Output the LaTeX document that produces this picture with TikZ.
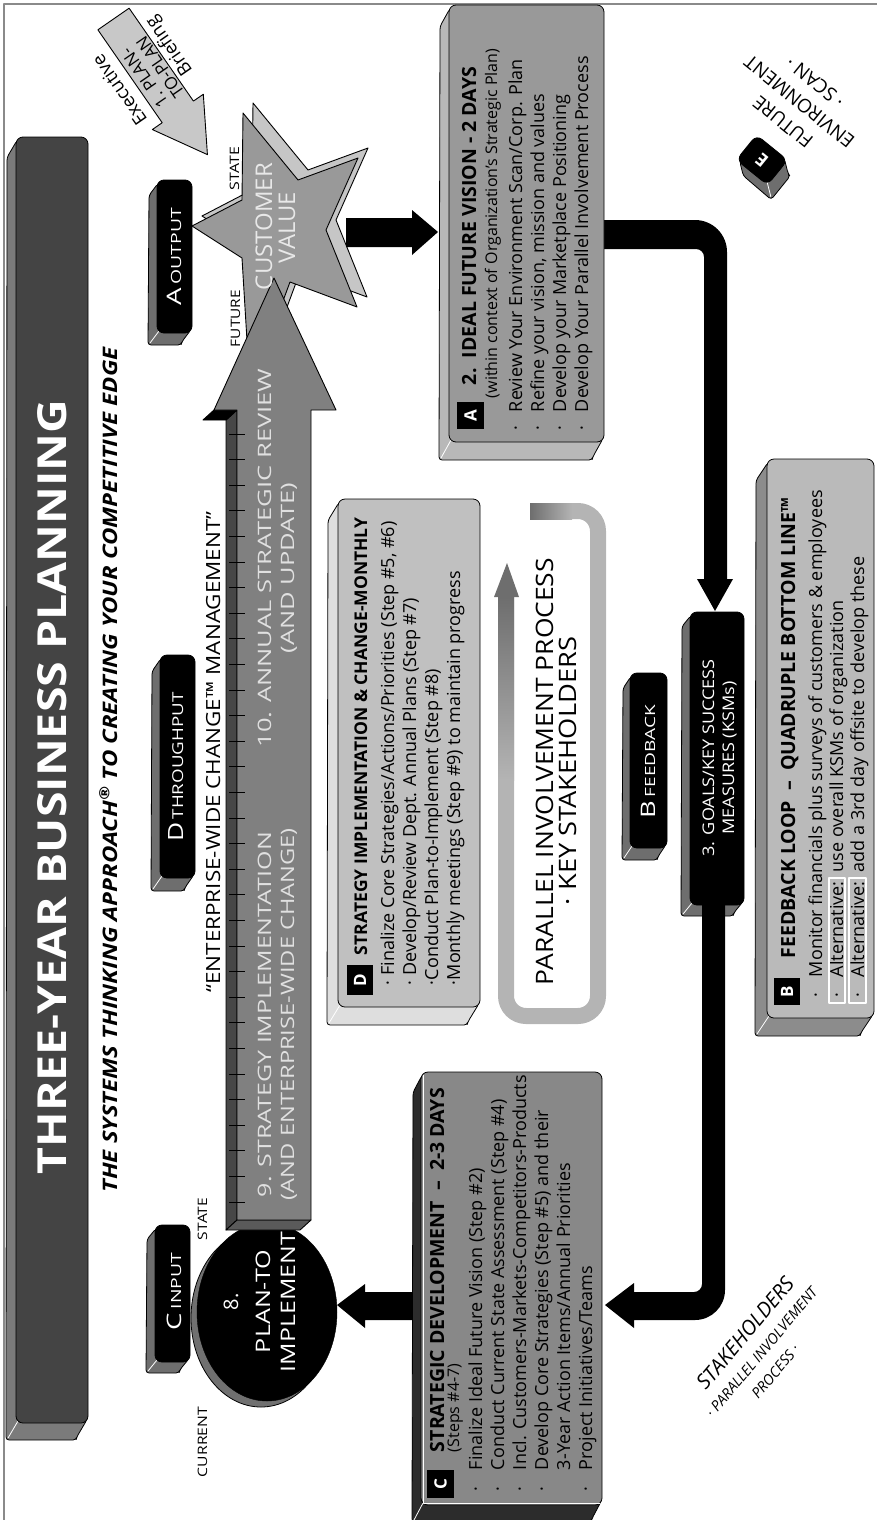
\documentclass[tikz,border=0pt]{standalone}
\usepackage{fontspec}
\setmainfont{Open Sans}
\usepackage{graphicx}

\definecolor{framegray}{HTML}{8A8A8A}
\definecolor{titlefront}{HTML}{444444}
\definecolor{titleside}{HTML}{7B7B7B}
\definecolor{keyside}{HTML}{6E6E6E}
\definecolor{execgray}{HTML}{C8C8C8}
\definecolor{starfront}{HTML}{999999}
\definecolor{starback}{HTML}{C6C6C6}
\definecolor{arrowfront}{HTML}{808080}
\definecolor{arrowside}{HTML}{474747}
\definecolor{arrowbottom}{HTML}{5A5A5A}
\definecolor{arrowtext}{HTML}{E0E0E0}
\definecolor{startext}{HTML}{E8E8E8}
\definecolor{visfront}{HTML}{999999}
\definecolor{visside}{HTML}{B8B8B8}
\definecolor{implfront}{HTML}{C0C0C0}
\definecolor{implside}{HTML}{DEDEDE}
\definecolor{devfront}{HTML}{888888}
\definecolor{devside}{HTML}{2C2C2C}
\definecolor{fbfront}{HTML}{BABABA}
\definecolor{fbside}{HTML}{8C8C8C}
\definecolor{ringlight}{HTML}{B4B4B4}
\definecolor{ringdark}{HTML}{6E6E6E}
\definecolor{ellside}{HTML}{707070}

\newcommand\fsz[1]{\fontsize{#1}{#1}\selectfont}
\newcommand\fitw[2]{\resizebox{#1pt}{\height}{#2}}
% raised box: top-left (#1,#2), bottom-right (#3,#4), extrusion (#5,#6), front colour, side colour
\newcommand\threed[8]{%
  \filldraw[fill=#8, draw=black, line width=0.8pt, rounded corners=3pt]
    ({#1+1},{#2-3.4}) -- ({#1+1+#5},{#2-3.4+#6}) -- ({#1+#5},{#4+#6})
    -- ({#3+#5-2},{#4+#6}) -- ({#3-1+#5},{#4+3.4+#6}) -- ({#3-1},{#4+3.4}) -- cycle;
  \draw[white, line width=0.8pt] ({#1+2},{#4+2}) -- ({#1+2+#5},{#4+2+#6});
  \filldraw[fill=#7, draw=black, line width=0.8pt, rounded corners=7pt] (#1,#2) rectangle (#3,#4);
}
% letter badge: name, corners, letter
\newcommand\badge[6]{%
  \fill[black] (#2,#3) rectangle (#4,#5);
  \node[vtext, anchor=center, white, font=\fsz{17}\bfseries] (#1) at ({(#2+#4)/2},{(#3+#5)/2}) {#6};
}

\begin{document}
\begin{tikzpicture}[x=1pt, y=1pt, line join=round,
  vtext/.style={rotate=90, inner sep=0pt, outer sep=0pt, anchor=base},
  vline/.style={rotate=90, inner sep=0pt, outer sep=0pt, anchor=base west},
  tilted/.style={inner sep=0pt, outer sep=0pt},
  outl/.style={draw=black, line width=0.9pt}]
\useasboundingbox (0,0) rectangle (877,-1520);

% frame
\draw[line width=1.6pt, framegray] (4,-1530) -- (4,-4) -- (890,-4);

% title bar and subtitle
\threed{16}{-137}{88}{-1423}{-10}{-17}{titlefront}{titleside}
\node[vtext, white] (title) at (66,-787)
  {\fsz{40}\bfseries\fitw{775}{THREE-YEAR BUSINESS PLANNING}};
\node[vtext] (subtitle) at (117,-770)
  {\fsz{20}\bfseries\itshape\fitw{845}{THE SYSTEMS THINKING APPROACH\textsuperscript{®} TO CREATING YOUR COMPETITIVE EDGE}};

% executive briefing arrow
\begin{scope}[shift={(113.5,-19)}, rotate=-55.3]
  \filldraw[fill=execgray, outl] (0,19) -- (113,19) -- (113,31) -- (165,0) -- (113,-31) -- (113,-19) -- (0,-19) -- cycle;
\end{scope}
\node[tilted, rotate=124.7, font=\fsz{18.5}] (exec1) at (119.2,-90.5) {Executive};
\node[tilted, rotate=124.7, font=\fsz{17}] (exec2) at (144.5,-77.8) {1. PLAN-};
\node[tilted, rotate=124.7, font=\fsz{17}] (exec3) at (160.1,-67) {TO-PLAN};
\node[tilted, rotate=124.7, font=\fsz{18.5}] (exec4) at (169.7,-45.7) {Briefing};

% customer value star
\filldraw[fill=starback, outl] (202,-216) -- (252,-190) -- (253,-103) -- (308,-170) -- (368,-148) -- (336,-220)
  -- (367,-297) -- (300,-272) -- (260,-380) -- (252,-248) -- cycle;
\filldraw[fill=starfront, outl] (192,-226) -- (242,-200) -- (243,-113) -- (298,-180) -- (358,-158) -- (326,-230)
  -- (357,-307) -- (290,-282) -- (250,-390) -- (242,-258) -- cycle;

% plan-to-implement ellipse
\filldraw[fill=ellside, draw=black, line width=0.8pt] (261,-1318) ellipse [x radius=70, y radius=89];
\filldraw[fill=black] (267,-1312) ellipse [x radius=70, y radius=89];

% big strategy arrow
\fill[arrowside, outl] (237,-410) -- (237,-1220) -- (226,-1230) -- (226,-420) -- cycle;
\fill[arrowbottom, outl] (237,-1220) -- (311,-1220) -- (300,-1230) -- (226,-1230) -- cycle;
\fill[black, outl] (214,-410) -- (237,-410) -- (226,-420) -- (203,-420) -- cycle;
\filldraw[fill=arrowfront, outl] (237,-1220) -- (311,-1220) -- (311,-410) -- (336,-410) -- (274,-278)
  -- (214,-410) -- (237,-410) -- cycle;
\foreach \k in {0,...,30} {\draw[line width=0.9pt] (229,{-434-25.6*\k}) -- (245,{-434-25.6*\k});}

% keys
\threed{157}{-180}{192}{-333}{-9}{-12}{black}{keyside}
\threed{160}{-655}{195}{-878}{-9}{-13}{black}{keyside}
\threed{155}{-1225}{190}{-1362}{-9}{-11}{black}{keyside}
\threed{630}{-673}{667}{-848}{-8}{-12}{black}{keyside}
\threed{690}{-612}{744}{-905}{-9}{-11}{black}{keyside}
\begin{scope}[shift={(762,-160)}, rotate=51, transform shape]
  \threed{-16}{20}{16}{-20}{-9}{-12}{black}{keyside}
  \node[vtext, anchor=center, white, font=\fsz{18}\bfseries] (ekey) at (0,0) {E};
\end{scope}

% black flow arrows
\fill[black] (346,-218) -- (412,-218) -- (412,-210) -- (438,-232) -- (412,-255) -- (412,-247) -- (346,-247) -- cycle;
\fill[black] (600,-220) -- (695,-220) arc[start angle=90, end angle=0, radius=32] -- (727,-579) -- (733,-579)
  -- (715,-611) -- (697,-579) -- (704,-579) -- (704,-257) arc[start angle=0, end angle=90, radius=8] -- (600,-249) -- cycle;
\fill[black] (702,-900) -- (725,-900) -- (725,-1290) arc[start angle=0, end angle=-90, radius=30] -- (634,-1320)
  -- (634,-1328) -- (605,-1305) -- (634,-1283) -- (634,-1292) -- (694,-1292) arc[start angle=-90, end angle=0, radius=8] -- cycle;
\fill[black] (425,-1292) -- (365,-1292) -- (365,-1284) -- (337,-1305) -- (365,-1328) -- (365,-1320) -- (425,-1320) -- cycle;

% content boxes
\threed{449}{-5}{604}{-442}{-10}{-18}{visfront}{visside}
\threed{338}{-499}{480}{-1007}{-11}{-18}{implfront}{implside}
\threed{421}{-1072}{602}{-1505}{-9}{-17}{devfront}{devside}
\draw[white, line width=0.8pt] (423,-1075) -- (423,-1503) -- (600,-1503);
\threed{767}{-459}{874}{-1018}{-12}{-18}{fbfront}{fbside}

% parallel involvement loop
\draw[line width=16pt, ringlight, rounded corners=20pt] (530,-511) -- (598,-511) -- (598,-1016) -- (506,-1016) -- (506,-597);
\shade[left color=ringdark, right color=ringlight] (530,-503) rectangle (572,-519);
\shade[top color=ringdark, bottom color=ringlight] (498,-597) rectangle (514,-780);
\fill[ringdark] (494,-597) -- (519,-597) -- (507,-563) -- cycle;

% labels on the star and the arrow
\node[vtext, startext, font=\fsz{23}] (cust1) at (272,-226.5) {\fitw{127}{CUSTOMER}};
\node[vtext, startext, font=\fsz{23}] (cust2) at (295,-227.5) {\fitw{71}{VALUE}};
\node[vtext, font=\fsz{13}] (stateA) at (239,-168.5) {\fitw{43}{STATE}};
\node[vtext, font=\fsz{13}] (futureA) at (240,-318.5) {\fitw{57}{FUTURE}};
\node[vtext, font=\fsz{13}] (stateC) at (207,-1219) {\fitw{42}{STATE}};
\node[vtext, font=\fsz{13}] (currentC) at (207,-1442) {\fitw{70}{CURRENT}};
\node[vtext, font=\fsz{19.5}] (ewc) at (220,-752) {\fitw{481}{“ENTERPRISE-WIDE CHANGE™ MANAGEMENT”}};
\node[vtext, arrowtext, font=\fsz{18.5}] (rev1) at (271,-558) {\fitw{379}{10. ANNUAL STRATEGIC REVIEW}};
\node[vtext, arrowtext, font=\fsz{18.5}] (rev2) at (294,-568) {\fitw{170}{(AND UPDATE)}};
\node[vtext, arrowtext, font=\fsz{18.5}] (impl1) at (271,-1014.5) {\fitw{365}{9. STRATEGY IMPLEMENTATION}};
\node[vtext, arrowtext, font=\fsz{18.5}] (impl2) at (294,-1014) {\fitw{372}{(AND ENTERPRISE-WIDE CHANGE)}};
\node[vtext, white, font=\fsz{20}] (ptx0) at (238,-1302) {8.};
\node[vtext, white, font=\fsz{20}] (ptx1) at (270,-1301.5) {\fitw{103}{PLAN-TO}};
\node[vtext, white, font=\fsz{20}] (ptx2) at (295,-1302) {\fitw{140}{IMPLEMENT}};

% key labels
\node[vtext, white] (aout) at (181,-256.5) {\fitw{97}{\fsz{20}A\fsz{14}\,OUTPUT}};
\node[vtext, white] (dthr) at (183,-767) {\fitw{149}{\fsz{21}D\fsz{15}\,THROUGHPUT}};
\node[vtext, white] (cinp) at (181,-1291.5) {\fitw{77}{\fsz{20}C\fsz{14}\,INPUT}};
\node[vtext, white] (bfb) at (655,-761.5) {\fitw{113}{\fsz{20}B\fsz{14}\,FEEDBACK}};
\node[vtext, white, font=\fsz{16}] (goal1) at (714,-758) {\fitw{197}{3. GOALS/KEY SUCCESS}};
\node[vtext, white, font=\fsz{16}] (goal2) at (734,-758) {\fitw{153}{MEASURES (KSMs)}};

% parallel involvement text
\node[vtext, font=\fsz{24}] (par1) at (553,-771.5) {\fitw{427}{PARALLEL INVOLVEMENT PROCESS}};
\node[vtext, font=\fsz{24}] (par2) at (576,-771) {\fitw{268}{· KEY STAKEHOLDERS}};

% ideal future vision box
\badge{badgeA}{457}{-402}{484}{-429}{A}
\node[vline, font=\fsz{19.5}\bfseries] (visT) at (476,-385) {2.\ \ IDEAL FUTURE VISION - 2 DAYS};
\node[vline, font=\fsz{16}] (visS) at (497,-398) {(within context of Organization’s Strategic Plan)};
\foreach \yy/\tx [count=\i] in {522/Review Your Environment Scan\slash Corp. Plan,
    544/{Refine your vision, mission and values},
    566/Develop your Marketplace Positioning,
    588/Develop Your Parallel Involvement Process} {
  \node[vline, font=\fsz{18}] (visB\i) at (\yy,-430) {·};
  \node[vline, font=\fsz{18}] (visL\i) at (\yy,-412) {\tx};
}

% strategy implementation box
\badge{badgeD}{347}{-965}{373}{-995}{D}
\node[vline, font=\fsz{17.5}\bfseries] (impT) at (367,-955) {STRATEGY IMPLEMENTATION \& CHANGE-MONTHLY};
\node[vline, font=\fsz{18}] (impL1) at (394,-985) {· Finalize Core Strategies/Actions/Priorities (Step \#5, \#6)};
\node[vline, font=\fsz{18}] (impL2) at (416,-985) {· Develop/Review Dept. Annual Plans (Step \#7)};
\node[vline, font=\fsz{18}] (impL3) at (438,-985) {·Conduct Plan-to-Implement (Step \#8)};
\node[vline, font=\fsz{18}] (impL4) at (460,-985) {·Monthly meetings (Step \#9) to maintain progress};

% strategic development box
\badge{badgeC}{427}{-1470}{454}{-1498}{C}
\node[vline, font=\fsz{19.5}\bfseries] (devT) at (444,-1452) {STRATEGIC DEVELOPMENT\ \ –\ \ 2-3 DAYS};
\node[vline, font=\fsz{16}] (devS) at (459,-1452) {(Steps \#4-7)};
\foreach \yy [count=\i] in {482,504,526,548,592} {
  \node[vline, font=\fsz{18}] (devB\i) at (\yy,-1491) {·};
}
\node[vline, font=\fsz{18}] (devL1) at (482,-1470) {Finalize Ideal Future Vision (Step \#2)};
\node[vline, font=\fsz{18}] (devL2) at (504,-1470) {Conduct Current State Assessment (Step \#4)};
\node[vline, font=\fsz{18}] (devL3) at (526,-1470) {Incl. Customers-Markets-Competitors-Products};
\node[vline, font=\fsz{18}] (devL4) at (548,-1470) {Develop Core Strategies (Step \#5) and their};
\node[vline, font=\fsz{18}] (devL5) at (570,-1470) {3-Year Action Items/Annual Priorities};
\node[vline, font=\fsz{18}] (devL6) at (592,-1470) {Project Initiatives/Teams};

% feedback loop box
\badge{badgeB}{774}{-978}{800}{-1005}{B}
\node[vline, font=\fsz{19.5}\bfseries] (fbT) at (795,-958) {FEEDBACK LOOP\ \ –\ \ QUADRUPLE BOTTOM LINE™};
\foreach \yy [count=\i] in {822,843,864} {\node[vline, font=\fsz{18}] (fbB\i) at (\yy,-997) {·};}
\node[vline, font=\fsz{18}] (fbL1) at (822,-977) {Monitor financials plus surveys of customers \& employees};
\node[vline, font=\fsz{18}] (fbL2) at (843,-977) {Alternative:\ \ use overall KSMs of organization};
\node[vline, font=\fsz{18}] (fbL3) at (864,-977) {Alternative:\ \ add a 3rd day offsite to develop these};
\draw[white, line width=1.1pt] (829,-878) rectangle (845,-1003);
\draw[white, line width=1.1pt] (849,-878) rectangle (866,-1003);

% future environment scan
\begin{scope}[shift={(783,-122)}, rotate=141, transform shape]
  \node[tilted, font=\fsz{19}] (fut1) at (0,0) {FUTURE};
  \node[tilted, font=\fsz{19}] (fut2) at (0,-26) {ENVIRONMENT};
  \node[tilted, font=\fsz{19}] (fut3) at (0,-51) {· SCAN ·};
\end{scope}

% stakeholders
\begin{scope}[shift={(745,-1333)}, rotate=50, transform shape]
  \node[tilted, font=\fsz{20.5}\itshape] (stk1) at (0,0) {STAKEHOLDERS};
  \node[tilted, font=\fsz{14.5}\itshape] (stk2) at (-4,-25) {· PARALLEL INVOLVEMENT};
  \node[tilted, font=\fsz{14.5}\itshape] (stk3) at (-10,-48) {PROCESS ·};
\end{scope}
\end{tikzpicture}
\end{document}
